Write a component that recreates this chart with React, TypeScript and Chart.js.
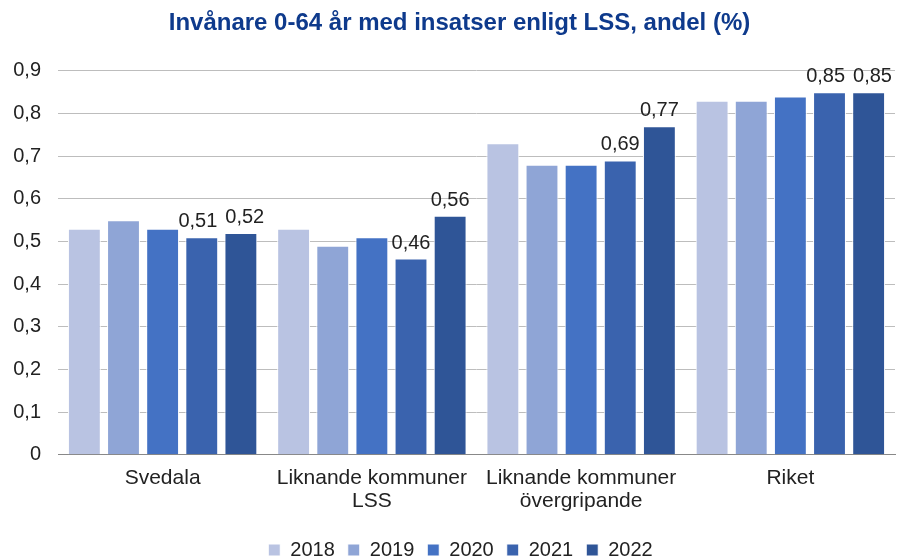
import React, { useEffect, useRef } from "react";
import { Chart, registerables } from "chart.js";

Chart.register(...registerables);

const categories: (string | string[])[] = [
  "Svedala",
  ["Liknande kommuner", "LSS"],
  ["Liknande kommuner", "övergripande"],
  "Riket",
];
const years = ["2018", "2019", "2020", "2021", "2022"];
const v2018 = [0.53, 0.53, 0.73, 0.83];
const v2019 = [0.55, 0.49, 0.68, 0.83];
const v2020 = [0.53, 0.51, 0.68, 0.84];
const v2021 = [0.51, 0.46, 0.69, 0.85];
const v2022 = [0.52, 0.56, 0.77, 0.85];
const colors = ["#B9C3E2", "#8FA5D6", "#4472C4", "#3A63AE", "#2F5597"];
const labelledSeries = [3, 4];
const yTicks = [0, 0.1, 0.2, 0.3, 0.4, 0.5, 0.6, 0.7, 0.8, 0.9];

const fmt = (v: number) => String(v).replace(".", ",");
const FONT = "'Liberation Sans', Arial, sans-serif";

const dataLabels = {
  id: "dataLabels",
  afterDatasetsDraw(chart: any) {
    const ctx = chart.ctx;
    ctx.save();
    ctx.font = `20px ${FONT}`;
    ctx.fillStyle = "#222";
    ctx.textAlign = "center";
    ctx.textBaseline = "alphabetic";
    const n = chart.data.labels.length;
    for (let i = 0; i < n; i++) {
      const items = labelledSeries.map((di) => {
        const bar: any = chart.getDatasetMeta(di).data[i];
        const text = fmt(chart.data.datasets[di].data[i]);
        return { text, x: bar.x, y: bar.y - 10, w: ctx.measureText(text).width };
      });
      for (let k = 0; k < items.length - 1; k++) {
        const a = items[k];
        const b = items[k + 1];
        const minGap = 8;
        const gap = b.x - b.w / 2 - (a.x + a.w / 2);
        if (Math.abs(a.y - b.y) < 20 && gap < minGap) {
          const shift = (minGap - gap) / 2;
          a.x -= shift;
          b.x += shift;
        }
      }
      items.forEach((it) => ctx.fillText(it.text, it.x, it.y));
    }
    ctx.restore();
  },
};

// nudge title and legend slightly right, as in the reference
const shiftBlocks = {
  id: "shiftBlocks",
  afterLayout(chart: any) {
    if (chart.titleBlock) chart.titleBlock.left += 24;
    if (chart.legend) chart.legend.left += 26;
  },
};

export default function App() {
  const ref = useRef<HTMLCanvasElement>(null);
  useEffect(() => {
    document.body.style.margin = "0";
    const series = [v2018, v2019, v2020, v2021, v2022];
    const chart = new Chart(ref.current!, {
      type: "bar",
      data: {
        labels: categories,
        datasets: years.map((y, i) => ({
          label: y,
          data: series[i],
          backgroundColor: colors[i],
          borderColor: "#ffffff",
          borderWidth: 1,
          barPercentage: 0.84,
          categoryPercentage: 0.935,
        })),
      },
      options: {
        animation: false,
        responsive: false,
        maintainAspectRatio: false,
        layout: { padding: { left: 0, right: 5, top: 0, bottom: -13 } },
        plugins: {
          title: {
            display: true,
            text: "Invånare 0-64 år med insatser enligt LSS, andel (%)",
            color: "#0E3A8C",
            font: { family: FONT, size: 24, weight: "bold" },
            padding: { top: 9, bottom: 33 },
          },
          legend: {
            position: "bottom",
            labels: {
              boxWidth: 12,
              boxHeight: 12,
              color: "#222",
              padding: 13,
              font: { family: FONT, size: 20 },
            },
          },
          tooltip: { enabled: false },
        },
        scales: {
          x: {
            grid: { display: false },
            border: { color: "#888", width: 1 },
            afterFit: (s: any) => {
              s.height += 10;
            },
            ticks: {
              color: "#222",
              font: { family: FONT, size: 21, lineHeight: 1.1 },
              maxRotation: 0,
              padding: 4,
            },
          },
          y: {
            min: 0,
            max: 0.9,
            afterFit: (s: any) => {
              s.width = 58;
            },
            afterBuildTicks: (s: any) => {
              s.ticks = yTicks.map((v) => ({ value: v }));
            },
            grid: { color: "#BDBDBD", lineWidth: 1, drawTicks: false },
            border: { display: false },
            ticks: {
              color: "#222",
              padding: 17,
              font: { family: FONT, size: 20 },
              callback: (v: any) => fmt(Math.round(Number(v) * 10) / 10),
            },
          },
        },
      },
      plugins: [dataLabels, shiftBlocks],
    });
    return () => chart.destroy();
  }, []);
  return <canvas ref={ref} width={900} height={557} style={{ display: "block" }} />;
}
